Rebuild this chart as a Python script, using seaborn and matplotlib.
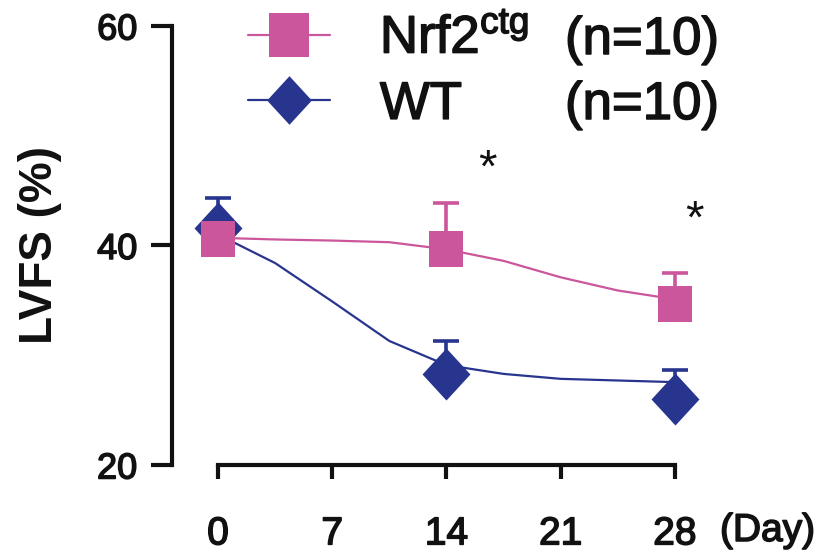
import numpy as np
import pandas as pd
import matplotlib
matplotlib.use("Agg")
import matplotlib.pyplot as plt
import matplotlib.patheffects as pe
from matplotlib.lines import Line2D
import seaborn as sns

# ---- data ----
days = [0, 14, 28]
nrf2_mean = [40.6, 39.7, 34.7]
nrf2_se = [1.5, 4.2, 2.8]
wt_mean = [41.6, 28.3, 26.0]
wt_se = [2.7, 3.0, 2.7]

curve_days = [0, 3.5, 7, 10.5, 14, 17.5, 21, 24.5, 28]
nrf2_curve = [40.7, 40.55, 40.45, 40.3, 39.65, 38.6, 37.1, 35.9, 35.1]
wt_curve = [41.0, 38.4, 34.9, 31.3, 29.1, 28.3, 27.85, 27.7, 27.55]

x_ticks = [0, 7, 14, 21, 28]
y_ticks = [20, 40, 60]
legend_names = ["Nrf2$^{ctg}$", "WT"]
legend_n = ["(n=10)", "(n=10)"]
star_pos_x = [16.5, 29.2]
star_pos_y = [45.8, 41.2]

PINK = "#CC569C"
BLUE = "#28358F"
INK = "#111111"

sns.set_theme(style="ticks")
plt.rcParams["font.family"] = ["Liberation Sans", "DejaVu Sans"]
plt.rcParams["mathtext.default"] = "regular"

heavy = [pe.withStroke(linewidth=1.1, foreground=INK)]

W, H = 823, 558
fig = plt.figure(figsize=(W / 100, H / 100), dpi=100)
fig.patch.set_facecolor("white")
ax = fig.add_axes([172 / W, 1 - 465 / H, (800 - 172) / W, (465 - 26) / H])
ax.set_facecolor("white")

px_per_day = 16.32
ax.set_xlim(-46 / px_per_day, (800 - 218) / px_per_day)
ax.set_ylim(20, 60)

# smooth trend curves
sns.lineplot(x=curve_days, y=nrf2_curve, color=PINK, lw=1.6, ax=ax, zorder=2)
sns.lineplot(x=curve_days, y=wt_curve, color=BLUE, lw=1.6, ax=ax, zorder=2)

# one-sided error bars
ax.errorbar(days, nrf2_mean, yerr=[np.zeros(3), nrf2_se], fmt="none",
            ecolor=PINK, elinewidth=2.6, capsize=9.5, capthick=2.6, zorder=1)
ax.errorbar(days, wt_mean, yerr=[np.zeros(3), wt_se], fmt="none",
            ecolor=BLUE, elinewidth=2.6, capsize=9.5, capthick=2.6, zorder=3)

sq = np.array([[-0.92, -1], [0.92, -1], [0.92, 1], [-0.92, 1], [-0.92, -1]])
dm = np.array([[0, 1], [0.92, 0], [0, -1], [-0.92, 0], [0, 1]])

df_wt = pd.DataFrame({"day": days, "val": wt_mean})
df_nrf = pd.DataFrame({"day": days, "val": nrf2_mean})
sns.scatterplot(data=df_wt, x="day", y="val", marker=dm, s=37.5 ** 2,
                color=BLUE, edgecolor=BLUE, linewidth=0, ax=ax, zorder=4)
sns.scatterplot(data=df_nrf, x="day", y="val", marker=sq, s=26 ** 2,
                color=PINK, edgecolor=PINK, linewidth=0, ax=ax, zorder=5)

# stars
for sx, sy in zip(star_pos_x, star_pos_y):
    ax.text(sx, sy, "*", fontsize=34, ha="center", va="baseline", color=INK)

# axes styling
sns.despine(ax=ax)
ax.spines["left"].set_bounds(20, 60)
ax.spines["bottom"].set_bounds(0, 28)
for s in ("left", "bottom"):
    ax.spines[s].set_linewidth(3)
    ax.spines[s].set_color(INK)
ax.set_xticks(x_ticks)
ax.set_xticklabels([str(t) for t in x_ticks])
ax.set_yticks(y_ticks)
ax.set_yticklabels([str(t) for t in y_ticks])
ax.tick_params(axis="y", length=15, width=3, pad=10, labelsize=26, colors=INK)
ax.tick_params(axis="x", length=10, width=3, pad=27, labelsize=28, colors=INK)
for lab in ax.get_xticklabels() + ax.get_yticklabels():
    lab.set_path_effects(heavy)
ax.set_xlabel("")
ax.set_ylabel("LVFS (%)", fontsize=33, fontweight="bold", color=INK)
ax.yaxis.label.set_va("center")
ax.yaxis.set_label_coords((40 - 172) / 628, 0.5)
ax.grid(False)

fig.text(720 / W, 1 - 531 / H, "(Day)", fontsize=28, ha="left", va="center",
         color=INK, path_effects=heavy)

# legend
handles = [
    Line2D([], [], color=PINK, lw=1.6, marker=sq, markersize=32, markeredgewidth=0),
    Line2D([], [], color=BLUE, lw=1.6, marker=dm, markersize=35, markeredgewidth=0),
]
leg = ax.legend(handles, legend_names, loc="upper left",
                bbox_to_anchor=(248 / W, 1 - 14 / H), bbox_transform=fig.transFigure,
                frameon=False, fontsize=38, borderpad=0, borderaxespad=0,
                handlelength=1.55, handletextpad=0.95, labelspacing=0.3)
for t in leg.get_texts():
    t.set_color(INK)
    t.set_path_effects(heavy)
for yc, txt in zip([40, 105], legend_n):
    fig.text(565 / W, 1 - yc / H, txt, fontsize=38, ha="left", va="center",
             color=INK, path_effects=heavy)

fig.savefig("out.png", dpi=100, facecolor="white")
